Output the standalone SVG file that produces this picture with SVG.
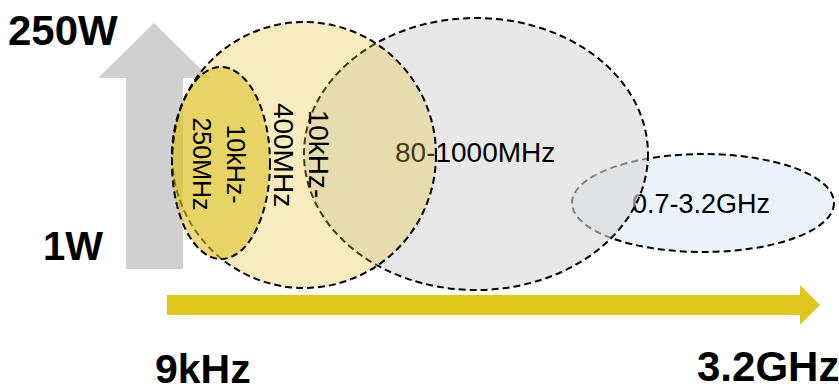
<svg xmlns="http://www.w3.org/2000/svg" width="839" height="391" viewBox="0 0 839 391">
<style>
.bound{stroke:#000;stroke-width:2;stroke-dasharray:7 4;}
.lbl{font-family:"Liberation Sans",Arial,sans-serif;fill:#000;}
.axis{font-family:"Liberation Sans",Arial,sans-serif;font-weight:bold;fill:#000;}
</style>
<rect width="839" height="391" fill="#fff"/>
<g id="connectors">
  <polygon id="power-arrow" points="126,269 126,78 98,78 154,23 210,78 183,78 183,269" fill="#D0D0D0"/>
  <polygon id="freq-arrow" points="167,295 800,295 800,285 820,305 800,325 800,315 167,315" fill="#E0C81E"/>
</g>
<g id="axis-labels">
  <text class="axis" x="8" y="45" font-size="42">250W</text>
  <text class="axis" x="43" y="260" font-size="40">1W</text>
  <text class="axis" x="155" y="383" font-size="41">9kHz</text>
  <text class="axis" x="697" y="381" font-size="42">3.2GHz</text>
</g>
<g id="band-ghz">
  <ellipse cx="703" cy="203" rx="131" ry="49" fill="#EBF3FA" class="bound"/>
  <text class="lbl" x="632" y="213" font-size="27">0.7-3.2GHz</text>
</g>
<g id="band-80-1000">
  <ellipse cx="476" cy="154" rx="172" ry="136" fill="#D9D9D9" fill-opacity="0.6" class="bound"/>
  <text class="lbl" x="395" y="162" font-size="28">80-1000MHz</text>
</g>
<g id="band-10k-400">
  <ellipse cx="304" cy="155" rx="132" ry="133" fill="#E0C030" fill-opacity="0.3" class="bound"/>
  <text class="lbl" font-size="28" text-anchor="middle" transform="translate(309,154) rotate(90)">10kHz-</text>
  <text class="lbl" font-size="28" text-anchor="middle" transform="translate(274,155) rotate(90)">400MHz</text>
</g>
<g id="band-10k-250">
  <ellipse cx="221" cy="163" rx="49" ry="96" fill="#DFC429" fill-opacity="0.6" class="bound"/>
  <text class="lbl" font-size="25" text-anchor="middle" transform="translate(227,164) rotate(90)">10kHz-</text>
  <text class="lbl" font-size="25" text-anchor="middle" transform="translate(193,164) rotate(90)">250MHz</text>
</g>
</svg>
